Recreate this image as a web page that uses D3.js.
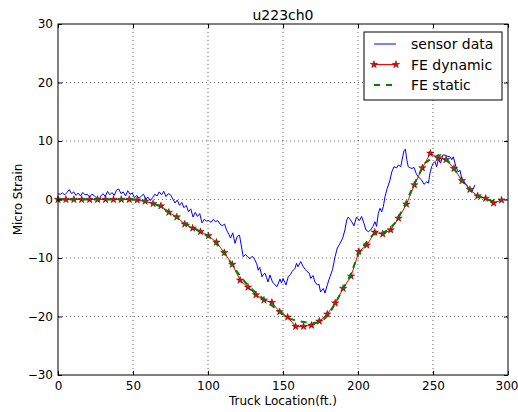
<!DOCTYPE html>
<html>
<head>
<meta charset="utf-8">
<script src="https://cdn.jsdelivr.net/npm/d3@7"></script>
<style>
  body { margin: 0; background: #fff; }
  svg { display: block; font-family: "DejaVu Sans", sans-serif; }
</style>
</head>
<body>
<svg id="chart" width="518" height="412"></svg>
<script>
// sensor data
const sensorX = [0, 1.5, 3, 4.5, 6, 7.5, 9, 10.5, 12, 13.5, 15, 16.5, 18, 19.5, 21, 22.5, 24, 25.5, 27, 28.5,
  30, 31.5, 33, 34.5, 36, 37.5, 39, 40.5, 42, 43.5, 45, 46.5, 48, 49.5, 51, 52.5, 54, 55.5, 57, 58.5,
  60, 61.5, 63, 64.5, 66, 67.5, 69, 70.5, 72, 73.5, 75, 76.5, 78, 79.5, 81, 82.5, 84, 85.5, 87, 88.5,
  90, 91.5, 93, 94.5, 96, 97.5, 99, 100.5, 102, 103.5, 105, 106.5, 108, 109.5, 111, 112.5, 114, 115, 116.5, 118,
  119.5, 121, 122, 123.5, 125, 126.5, 128, 129.5, 131, 132.5, 133.5, 134.5, 136, 137, 138, 139, 140, 141.3, 143, 144.7,
  146, 148, 149, 150, 152, 153.5, 155, 156, 158, 159, 160, 161.8, 163.5, 165, 166, 167.5, 168.5, 170, 171.3, 172.9,
  174, 175, 176.9, 178, 179.5, 181.3, 183, 184.7, 186.2, 188, 189.8, 191.3, 192.5, 193.5, 194.5, 195.8, 197.3, 199, 200.9, 202.4,
  204, 205.3, 206.9, 208.5, 210, 211.3, 212.4, 213.5, 214.7, 215.8, 216.9, 218, 219.5, 221.3, 222.5, 224, 225.8, 226.9, 228.5, 229.8,
  230.7, 231.6, 232.5, 233.5, 235, 236, 237.3, 238.7, 240, 241.3, 242.5, 244, 245.8, 246.9, 248, 249.1, 250.2, 251.3, 252.4, 253.5,
  255.1, 256.5, 258, 259.5, 261.3, 262.5, 263.5, 265.3, 266.9, 268, 269.1, 270.2, 271.3, 272.5, 273.5, 274.7, 275.8, 276.9, 278];
const sensorY = [1.0, 0.9, 1.1, 0.8, 1.2, 1.7, 1.0, 1.3, 0.7, 1.1, 0.6, 1.2, 0.8, 0.9, 0.4, 0.9, 0.7, 0.3, -0.4, 0.6,
  1.0, 0.5, 1.4, 0.8, 1.2, 0.7, 1.6, 1.8, 1.0, 1.3, 0.6, 1.5, 0.9, 1.1, 0.3, 0.7, 0.2, 0.6, 0.9, 0.1,
  0.4, -0.2, 0.3, 0.9, 0.6, 1.3, 0.8, 1.4, 0.5, 1.0, 0.8, 0.1, -0.6, -0.1, -1.0, -0.5, -1.4, -1.0, -2.1, -1.6,
  -3.0, -2.2, -2.9, -2.4, -4.0, -3.4, -3.7, -3.6, -3.9, -3.4, -3.8, -3.6, -4.2, -4.5, -4.2, -5.3, -6.0, -6.6, -5.7, -7.5,
  -6.3, -6.1, -7.6, -9.8, -9.4, -9.8, -10.1, -9.7, -10.2, -11.0, -12.1, -11.6, -13.2, -12.8, -12.6, -13.3, -14.1, -12.9, -14.1, -14.6,
  -14.9, -13.6, -14.3, -13.5, -14.6, -13.2, -12.8, -12.3, -11.8, -10.9, -11.5, -10.6, -11.5, -12.0, -12.3, -12.6, -13.5, -13.0, -14.1, -14.6,
  -14.5, -15.8, -15.2, -16.0, -14.6, -13.2, -12.0, -9.8, -8.3, -7.5, -6.6, -5.2, -3.5, -3.0, -3.3, -3.8, -4.5, -3.0, -3.6, -2.9,
  -4.1, -5.2, -5.5, -5.2, -4.6, -3.8, -4.6, -2.4, -1.5, -2.1, -1.2, 0.5, 1.9, 3.3, 4.7, 5.6, 5.4, 5.9, 5.6, 7.3,
  8.4, 8.6, 6.8, 5.6, 5.4, 5.3, 5.5, 4.5, 3.9, 3.6, 3.3, 2.6, 3.0, 2.8, 4.5, 5.6, 6.2, 6.5, 5.6, 6.8,
  6.2, 7.6, 7.6, 7.4, 7.3, 6.8, 7.3, 5.6, 4.7, 5.0, 3.6, 3.3, 2.8, 2.5, 1.9, 1.6, 1.3, 1.9, 2.5];

// FE dynamic
const dynX = [0, 5.3, 10.6, 15.8, 21.1, 26.4, 31.7, 37, 42.2, 47.5, 52.8, 58.1, 63.4, 68.6, 73.9, 79.2, 84.5, 89.8, 95, 100.3,
  105.6, 110.9, 116.2, 121.4, 126.7, 132, 137.3, 142.6, 147.8, 153.1, 158.4, 163.7, 169, 174.2, 179.5, 184.8, 190.1, 195.4, 200.6, 205.9,
  211.2, 216.5, 221.8, 227, 232.3, 237.6, 242.9, 248.2, 253.4, 258.7, 264, 269.3, 274.6, 279.8, 285.1, 290.4, 295.7];
const dynY = [0, 0, 0, 0, 0, 0, 0, 0, 0, 0, -0.1, -0.3, -0.7, -1.1, -2.2, -3.0, -4.2, -4.9, -5.5, -6.2,
  -7.3, -9.1, -11.1, -13.8, -15.0, -16.3, -17.2, -17.6, -19.2, -20.1, -21.7, -21.7, -21.5, -20.8, -19.6, -17.7, -15.2, -13.1, -8.9, -7.8,
  -5.6, -5.9, -5.2, -3.2, -0.8, 2.5, 5.4, 7.9, 7.1, 6.8, 5.3, 3.2, 1.7, 0.6, 0.2, -0.6, -0.1];

// FE static
const staticX = [0, 5, 10, 15, 20, 25, 30, 35, 40, 45, 50, 55, 60, 65, 70, 75, 80, 85, 90, 95,
  100, 105, 110, 115, 120, 125, 130, 135, 140, 145, 150, 155, 160, 165, 170, 175, 180, 185, 190, 195,
  200, 205, 210, 215, 220, 225, 230, 235, 240, 245, 250, 255, 260, 265, 270, 275, 280, 285, 290, 295];
const staticY = [0, 0, 0, 0, 0, 0, 0, 0, 0, 0, 0, -0.1, -0.4, -0.8, -1.5, -2.3, -3.2, -4.1, -4.8, -5.5,
  -6.3, -7.4, -8.9, -10.7, -12.6, -14.2, -15.5, -16.6, -17.6, -18.6, -19.6, -20.4, -20.8, -21.0, -21.1, -21.0, -19.8, -17.7, -15.3, -12.9,
  -9.5, -7.5, -6.0, -5.8, -5.3, -3.9, -1.6, 1.2, 4.0, 6.3, 7.2, 7.6, 6.6, 4.9, 3.0, 1.5, 0.6, 0.1, -0.3, -0.1];

const xTicks = [0, 50, 100, 150, 200, 250, 300];
const yTicks = [-30, -20, -10, 0, 10, 20, 30];
const legendItems = ['sensor data', 'FE dynamic', 'FE static'];

const plotL = 58, plotR = 508, plotT = 24, plotB = 375;
const svg = d3.select('#chart');

const x = d3.scaleLinear().domain([0, 300]).range([plotL, plotR]);
const y = d3.scaleLinear().domain([-30, 30]).range([plotB, plotT]);

// grid
const grid = svg.append('g').attr('stroke', '#000').attr('stroke-width', 0.6)
  .attr('stroke-dasharray', '1,3');
grid.selectAll('.gx').data(xTicks.slice(1, -1)).enter().append('line')
  .attr('x1', d => x(d)).attr('x2', d => x(d)).attr('y1', plotT).attr('y2', plotB);
grid.selectAll('.gy').data(yTicks.slice(1, -1)).enter().append('line')
  .attr('x1', plotL).attr('x2', plotR).attr('y1', d => y(d)).attr('y2', d => y(d));

const line = d3.line().x(d => x(d[0])).y(d => y(d[1]));
const plot = svg.append('g');

plot.append('path')
  .attr('d', line(sensorX.map((v, i) => [v, sensorY[i]])))
  .attr('fill', 'none').attr('stroke', '#0000ff').attr('stroke-width', 1);

const dyn = dynX.map((v, i) => [v, dynY[i]]);
plot.append('path').attr('d', line(dyn))
  .attr('fill', 'none').attr('stroke', '#ff0000').attr('stroke-width', 1);

const star = d3.symbol().type(d3.symbolStar).size(17);
plot.selectAll('.star').data(dyn).enter().append('path')
  .attr('d', star)
  .attr('transform', d => `translate(${x(d[0])},${y(d[1])})`)
  .attr('fill', '#ff0000').attr('stroke', '#000').attr('stroke-width', 0.4);

plot.append('path')
  .attr('d', line(staticX.map((v, i) => [v, staticY[i]])))
  .attr('fill', 'none').attr('stroke', '#008000').attr('stroke-width', 2)
  .attr('stroke-dasharray', '6,6');

// axes, ticks pointing inward
const fmt = d => d < 0 ? '\u2212' + Math.abs(d) : String(d);
const styleAxis = g => {
  g.select('.domain').remove();
  g.selectAll('line').attr('stroke', '#000');
  g.selectAll('text').attr('fill', '#000').attr('font-size', 12)
    .attr('font-family', '"DejaVu Sans", sans-serif');
};
const xAxis = svg.append('g').attr('transform', `translate(0,${plotB})`)
  .call(d3.axisBottom(x).tickValues(xTicks).tickFormat(fmt).tickSize(-4).tickPadding(6)).call(styleAxis);
// keep the last label inside the window
xAxis.selectAll('text').filter(d => d === 300).attr('text-anchor', 'end').attr('x', 10);
svg.append('g').attr('transform', `translate(0,${plotT})`)
  .call(d3.axisTop(x).tickValues(xTicks).tickFormat('').tickSize(-4)).call(styleAxis);
svg.append('g').attr('transform', `translate(${plotL},0)`)
  .call(d3.axisLeft(y).tickValues(yTicks).tickFormat(fmt).tickSize(-4).tickPadding(5)).call(styleAxis);
svg.append('g').attr('transform', `translate(${plotR},0)`)
  .call(d3.axisRight(y).tickValues(yTicks).tickFormat('').tickSize(-4)).call(styleAxis);

svg.append('rect').attr('x', plotL).attr('y', plotT)
  .attr('width', plotR - plotL).attr('height', plotB - plotT)
  .attr('fill', 'none').attr('stroke', '#000').attr('stroke-width', 1);

// titles
svg.append('text').attr('x', (plotL + plotR) / 2).attr('y', 19.5)
  .attr('text-anchor', 'middle').attr('font-size', 14).text('u223ch0');
svg.append('text').attr('x', (plotL + plotR) / 2).attr('y', 405)
  .attr('text-anchor', 'middle').attr('font-size', 12).text('Truck Location(ft.)');
svg.append('text').attr('transform', `translate(22,${(plotT + plotB) / 2}) rotate(-90)`)
  .attr('text-anchor', 'middle').attr('font-size', 12).text('Micro Strain');

// legend
const lg = svg.append('g');
lg.append('rect').attr('x', 364).attr('y', 32).attr('width', 138).attr('height', 68)
  .attr('fill', '#fff').attr('stroke', '#000').attr('stroke-width', 1);
const rowY = [44, 64.5, 85];
lg.append('line').attr('x1', 374).attr('x2', 396).attr('y1', rowY[0]).attr('y2', rowY[0])
  .attr('stroke', '#0000ff').attr('stroke-width', 1);
lg.append('line').attr('x1', 374).attr('x2', 396).attr('y1', rowY[1]).attr('y2', rowY[1])
  .attr('stroke', '#ff0000').attr('stroke-width', 1);
[374, 396].forEach(px => lg.append('path').attr('d', star)
  .attr('transform', `translate(${px},${rowY[1]})`)
  .attr('fill', '#ff0000').attr('stroke', '#000').attr('stroke-width', 0.4));
lg.append('line').attr('x1', 374).attr('x2', 396).attr('y1', rowY[2]).attr('y2', rowY[2])
  .attr('stroke', '#008000').attr('stroke-width', 2).attr('stroke-dasharray', '6,6');
lg.selectAll('.lt').data(legendItems).enter().append('text')
  .attr('x', 411).attr('y', (d, i) => rowY[i] + 5)
  .attr('font-size', 14).text(d => d);
</script>
</body>
</html>
